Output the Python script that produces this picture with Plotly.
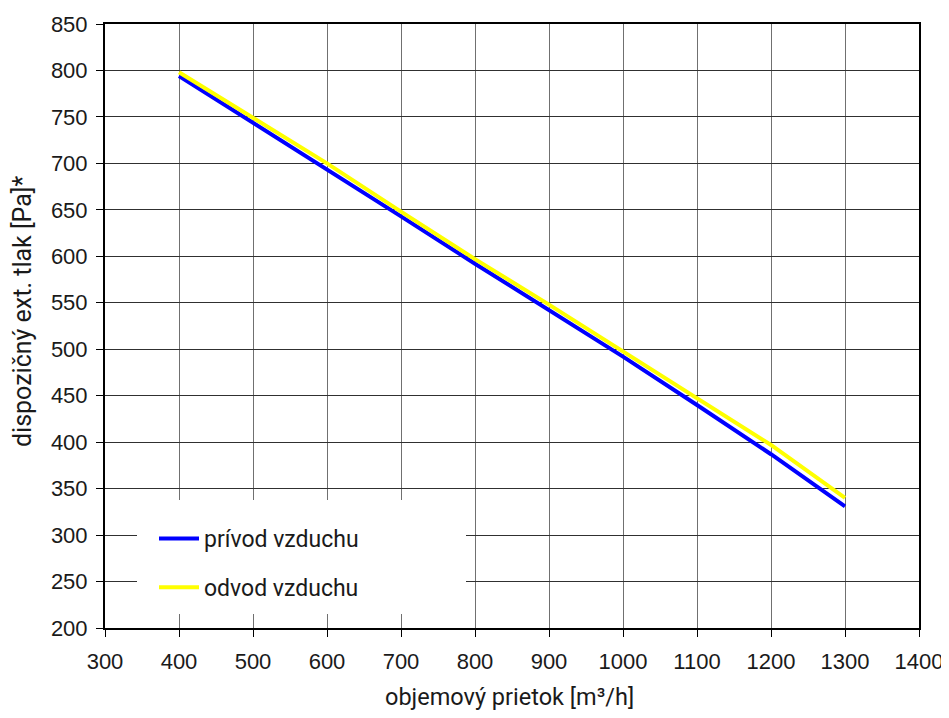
import plotly.graph_objects as go

flow = [400, 500, 600, 700, 800, 900, 1000, 1100, 1200, 1300]
privod = [794, 744, 694, 643, 592, 542, 492, 440, 387, 331]
odvod = [798, 749, 700, 648, 597, 548, 498, 448, 397, 340]

x_ticks = list(range(300, 1401, 100))
y_ticks = list(range(200, 851, 50))

x_title = "objemový prietok [m³/h]"
y_title = "dispozičný ext. tlak [Pa]*"

tick_font = dict(family="Liberation Sans, Arial", size=22, color="#1a1a1a")

fig = go.Figure()
fig.add_trace(go.Scatter(x=flow, y=privod, mode="lines", name="prívod vzduchu",
                         line=dict(color="#0000ff", width=4), legendgroup="a"))
fig.add_trace(go.Scatter(x=flow, y=odvod, mode="lines", name="odvod vzduchu",
                         line=dict(color="#ffff00", width=4), legendgroup="b"))

# white legend background box covering grid
fig.add_shape(type="rect", xref="paper", yref="paper",
              x0=(137 - 105) / 814, x1=(466 - 105) / 814,
              y0=(628 - 614) / 604, y1=(628 - 500) / 604,
              fillcolor="white", line=dict(width=0), layer="above")

# axis titles as annotations for exact placement
fig.add_annotation(text=x_title, xref="paper", yref="paper",
                   x=(509 - 105) / 814, y=(628 - 697) / 604,
                   xanchor="center", yanchor="middle", showarrow=False,
                   font=dict(family="Roboto", size=23.5, color="#1a1a1a"))
fig.add_annotation(text=y_title, xref="paper", yref="paper",
                   x=(22 - 105) / 814, y=(628 - 312) / 604, textangle=-90,
                   xanchor="center", yanchor="middle", showarrow=False,
                   font=dict(family="Roboto", size=25, color="#1a1a1a"))

# page body has an 8px margin, so figure coords are page coords - 8
fig.update_layout(
    width=941, height=702,
    margin=dict(l=97, r=30, t=16, b=82, autoexpand=False),
    paper_bgcolor="white", plot_bgcolor="white",
    showlegend=True,
    legend=dict(x=(154 - 105) / 814, y=(628 - 517) / 604, xanchor="left", yanchor="top",
                bgcolor="rgba(0,0,0,0)", borderwidth=0, itemwidth=40,
                font=dict(family="Roboto", size=23, color="#1a1a1a"),
                tracegroupgap=16, traceorder="grouped"),
    xaxis=dict(range=[300, 1400], tickvals=x_ticks, ticktext=[str(v) for v in x_ticks],
               showgrid=True, gridcolor="#707070", gridwidth=1.2,
               showline=True, linecolor="black", linewidth=2, mirror=True,
               ticks="outside", ticklen=7, tickcolor="black", tickwidth=1,
               tickfont=tick_font, zeroline=False, ticklabelstandoff=6, automargin=False),
    yaxis=dict(range=[200, 850], tickvals=y_ticks, ticktext=[str(v) for v in y_ticks],
               showgrid=True, gridcolor="#303030", gridwidth=1,
               showline=True, linecolor="black", linewidth=2, mirror=True,
               ticks="outside", ticklen=7, tickcolor="black", tickwidth=1,
               tickfont=tick_font, zeroline=False, ticklabelstandoff=4, automargin=False),
)

fig.write_html("out.html")
